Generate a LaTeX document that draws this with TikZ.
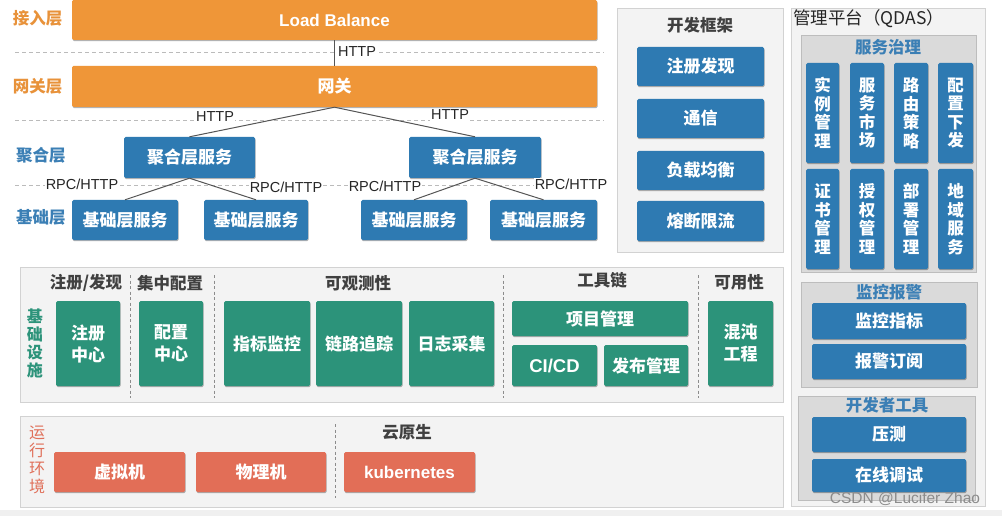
\documentclass[tikz,border=0pt]{standalone}
\usepackage{fontspec}
\setmainfont{Noto Sans CJK SC}
\newfontfamily\lat{Liberation Sans}
\usetikzlibrary{shadows}
\definecolor{orgC}{HTML}{EF9638}
\definecolor{orgL}{HTML}{E8923A}
\definecolor{bluC}{HTML}{2E7AB2}
\definecolor{bluL}{HTML}{3B7FB5}
\definecolor{grnC}{HTML}{2C937A}
\definecolor{redC}{HTML}{E26E57}
\definecolor{redL}{HTML}{E0705A}
\definecolor{pnlF}{HTML}{F3F3F3}
\definecolor{pnlD}{HTML}{D2D2D2}
\definecolor{subF}{HTML}{DADADA}
\definecolor{subD}{HTML}{BDBDBD}
\definecolor{dkT}{HTML}{404040}
\definecolor{lnC}{HTML}{555555}
\definecolor{dashC}{HTML}{BBBBBB}
\newcommand\bx[7]{\node[#1, minimum width={(#5-#3)*1pt}, minimum height={(#6-#4)*1pt}] (#2) at ({(#3+#5)/2},{(#4+#6)/2}) {#7};}
\tikzset{
  btn/.style={rectangle, inner sep=0pt, rounded corners=1.5pt, text=white, align=center,
    font=\bfseries\fontsize{17}{22}\selectfont,
    drop shadow={shadow xshift=0.6pt,shadow yshift=-1.2pt,opacity=.3,fill=black}},
  obox/.style={btn, fill=orgC},
  bbox/.style={btn, fill=bluC},
  vbox/.style={btn, fill=bluC, font=\bfseries\fontsize{16.5}{18.5}\selectfont},
  gbox/.style={btn, fill=grnC},
  rbox/.style={btn, fill=redC},
  panel/.style={rectangle, inner sep=0pt, fill=pnlF, draw=pnlD, line width=0.8pt},
  subpanel/.style={rectangle, inner sep=0pt, fill=subF, draw=subD, line width=0.8pt},
  lbl/.style={font=\bfseries\fontsize{16.5}{20}\selectfont, inner sep=0pt},
  vlbl/.style={font=\bfseries\fontsize{16}{18}\selectfont, inner sep=0pt, align=center},
  ttl/.style={font=\bfseries\fontsize{16.5}{20}\selectfont, text=dkT, inner sep=0pt},
  subttl/.style={font=\bfseries\fontsize{16.5}{20}\selectfont, text=bluL, inner sep=0pt},
  proto/.style={font=\lat\fontsize{14.5}{16}\selectfont, text=black!85, inner sep=1pt, fill=white},
  conn/.style={draw=lnC, line width=1pt},
  hsep/.style={draw=dashC, line width=0.9pt, dash pattern=on 4pt off 3pt},
  vsep/.style={draw=black!45, line width=0.6pt, dash pattern=on 3pt off 2.5pt},
}
\begin{document}
\begin{tikzpicture}[x=1pt,y=-1pt]
\useasboundingbox[fill=white] (0,0) rectangle (1002,516);
\fill[black!6] (0,510) rectangle (1002,516);

% ---------- layer labels ----------
\node[lbl, text=orgL] (l1) at (37.5,18) {接入层};
\node[lbl, text=orgL] (l2) at (37.5,86) {网关层};
\node[lbl, text=bluL] (l3) at (41,155) {聚合层};
\node[lbl, text=bluL] (l4) at (41,217) {基础层};

% ---------- dashed separators ----------
\coordinate (d1a) at (15,52);  \coordinate (d1b) at (604,52);
\coordinate (d2a) at (15,120); \coordinate (d2b) at (604,120);
\coordinate (d3a) at (15,185); \coordinate (d3b) at (604,185);
\path[hsep] (d1a) -- (d1b);
\path[hsep] (d2a) -- (d2b);
\path[hsep] (d3a) -- (d3b);

% ---------- service layers ----------
\bx{obox}{lb}{72}{0}{597}{40}{\lat\bfseries\fontsize{17}{20}\selectfont Load Balance}
\bx{obox}{gw}{72}{66}{597}{107}{网关}
\bx{bbox}{ag1}{124}{137}{255}{178}{聚合层服务}
\bx{bbox}{ag2}{409}{137}{541}{178}{聚合层服务}
\bx{bbox}{b1}{72}{200}{178}{240}{基础层服务}
\bx{bbox}{b2}{204}{200}{308}{240}{基础层服务}
\bx{bbox}{b3}{361}{200}{467}{240}{基础层服务}
\bx{bbox}{b4}{490}{200}{597}{240}{基础层服务}

\path[conn] (lb.south) -- (gw.north);
\path[conn] (gw.south) -- (ag1.north);
\path[conn] (gw.south) -- (ag2.north);
\path[conn] (ag1.south) -- (b1.north);
\path[conn] (ag1.south) -- (b2.north);
\path[conn] (ag2.south) -- (b3.north);
\path[conn] (ag2.south) -- (b4.north);

\node[proto] (p1) at (357,52) {HTTP};
\node[proto] (p2) at (215,117) {HTTP};
\node[proto] (p3) at (450,115) {HTTP};
\node[proto] (p4) at (82,184) {RPC/HTTP};
\node[proto] (p5) at (286,187) {RPC/HTTP};
\node[proto] (p6) at (385,186) {RPC/HTTP};
\node[proto] (p7) at (571,184) {RPC/HTTP};

% ---------- dev framework ----------
\bx{panel}{dfp}{617}{8}{783}{252}{}
\node[ttl] (dft) at (700,25) {开发框架};
\bx{bbox}{df1}{637}{47}{764}{86}{注册发现}
\bx{bbox}{df2}{637}{99}{764}{138}{通信}
\bx{bbox}{df3}{637}{151}{764}{190}{负载均衡}
\bx{bbox}{df4}{637}{201}{764}{241}{熔断限流}

% ---------- management platform ----------
\bx{panel}{mp}{791}{8}{985}{506}{}
\node[anchor=west, inner sep=0pt, font=\fontsize{17.5}{20}\selectfont, text=black!85] (mpt) at (793,19) {管理平台（QDAS）};
\bx{subpanel}{sg}{801}{35}{976}{272}{}
\node[subttl] (sgt) at (888,47) {服务治理};
\bx{vbox}{v1}{806}{63}{839}{163}{实\\例\\管\\理}
\bx{vbox}{v2}{850}{63}{884}{163}{服\\务\\市\\场}
\bx{vbox}{v3}{894}{63}{928}{163}{路\\由\\策\\略}
\bx{vbox}{v4}{938}{63}{973}{163}{配\\置\\下\\发}
\bx{vbox}{v5}{806}{169}{839}{269}{证\\书\\管\\理}
\bx{vbox}{v6}{850}{169}{884}{269}{授\\权\\管\\理}
\bx{vbox}{v7}{894}{169}{928}{269}{部\\署\\管\\理}
\bx{vbox}{v8}{938}{169}{973}{269}{地\\域\\服\\务}

\bx{subpanel}{sm}{801}{282}{977}{387}{}
\node[subttl] (smt) at (889,292) {监控报警};
\bx{bbox}{m1}{812}{303}{966}{339}{监控指标}
\bx{bbox}{m2}{812}{344}{966}{379}{报警订阅}

\bx{subpanel}{sd}{798}{396}{975}{500}{}
\node[subttl] (sdt) at (887,405) {开发者工具};
\bx{bbox}{t1}{812}{417}{966}{452}{压测}
\bx{bbox}{t2}{812}{459}{966}{492}{在线调试}

% ---------- infrastructure ----------
\bx{panel}{ip}{20}{267}{783}{402}{}
\node[vlbl, text=grnC] (ipl) at (35,343) {基\\础\\设\\施};
\node[ttl] (it1) at (86,283) {注册/发现};
\node[ttl] (it2) at (170,283) {集中配置};
\node[ttl] (it3) at (358,283) {可观测性};
\node[ttl] (it4) at (602,280) {工具链};
\node[ttl] (it5) at (739,282) {可用性};
\coordinate (s1a) at (130,275); \coordinate (s1b) at (130,398);
\coordinate (s2a) at (214,275); \coordinate (s2b) at (214,398);
\coordinate (s3a) at (503,275); \coordinate (s3b) at (503,398);
\coordinate (s4a) at (698,275); \coordinate (s4b) at (698,398);
\path[vsep] (s1a) -- (s1b);
\path[vsep] (s2a) -- (s2b);
\path[vsep] (s3a) -- (s3b);
\path[vsep] (s4a) -- (s4b);
\bx{gbox}{g1}{56}{301}{120}{386}{注册\\中心}
\bx{gbox}{g2}{139}{301}{203}{386}{配置\\中心}
\bx{gbox}{g3}{224}{301}{310}{386}{指标监控}
\bx{gbox}{g4}{316}{301}{402}{386}{链路追踪}
\bx{gbox}{g5}{409}{301}{494}{386}{日志采集}
\bx{gbox}{g6}{512}{301}{688}{336}{项目管理}
\bx{gbox}{g7}{512}{345}{597}{386}{\lat\bfseries\fontsize{18.5}{20}\selectfont CI/CD}
\bx{gbox}{g8}{604}{345}{688}{386}{发布管理}
\bx{gbox}{g9}{708}{301}{773}{386}{混沌\\工程}

% ---------- runtime ----------
\bx{panel}{rp}{20}{416}{783}{507}{}
\node[vlbl, text=redL, font=\fontsize{16}{18}\selectfont] (rpl) at (37,460) {运\\行\\环\\境};
\coordinate (s5a) at (335,424); \coordinate (s5b) at (335,498);
\path[vsep] (s5a) -- (s5b);
\node[ttl] (rt) at (407,432) {云原生};
\bx{rbox}{r1}{54}{452}{185}{492}{虚拟机}
\bx{rbox}{r2}{196}{452}{326}{492}{物理机}
\bx{rbox}{r3}{344}{452}{475}{492}{\lat\bfseries\fontsize{17}{20}\selectfont kubernetes}

% ---------- watermark ----------
\node[font=\lat\fontsize{15.5}{18}\selectfont, text=black!45, inner sep=0pt] (wm) at (905,499) {CSDN @Lucifer Zhao};
\end{tikzpicture}
\end{document}
